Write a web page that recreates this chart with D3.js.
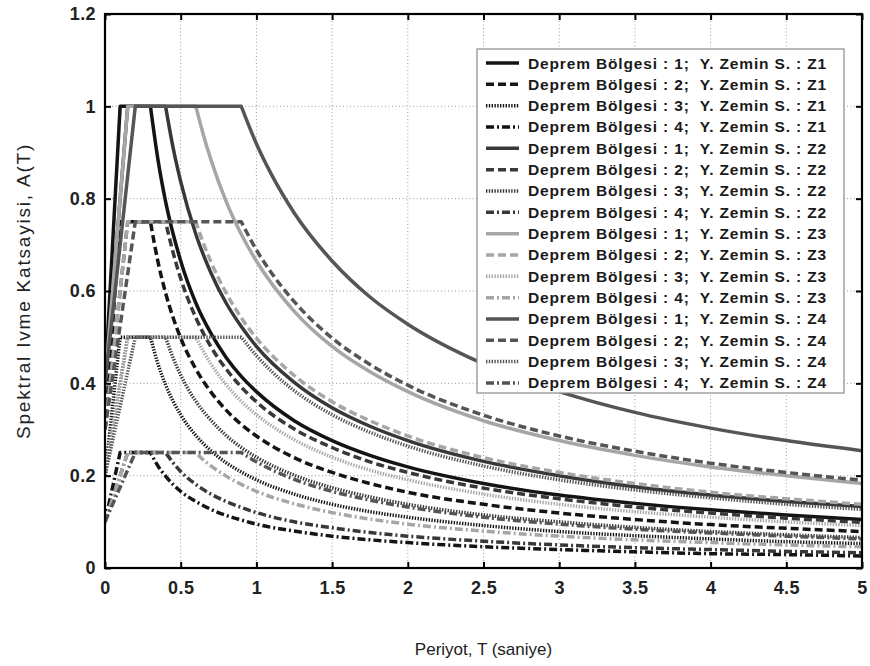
<!DOCTYPE html>
<html>
<head>
<meta charset="utf-8">
<script src="https://cdn.jsdelivr.net/npm/d3@7"></script>
<style>
  html, body { margin: 0; padding: 0; background: #fff; }
  svg { display: block; font-family: "Liberation Sans", Arial, Helvetica, sans-serif; }
</style>
</head>
<body>
<svg id="chart" width="870" height="666"></svg>
<script>
// ---------- data ----------
const soilClasses = ["Z1", "Z2", "Z3", "Z4"];
const zones = [1, 2, 3, 4];

// Period grids (s) per soil class
const periodsZ1 = [0, 0.1, 0.3, 0.35, 0.4, 0.5, 0.6, 0.7, 0.8, 0.9, 1.0, 1.25, 1.5, 1.75, 2, 2.5, 3, 3.5, 4, 4.5, 5];
const periodsZ2 = [0, 0.15, 0.4, 0.45, 0.5, 0.6, 0.7, 0.8, 0.9, 1.0, 1.25, 1.5, 1.75, 2, 2.5, 3, 3.5, 4, 4.5, 5];
const periodsZ3 = [0, 0.15, 0.6, 0.65, 0.7, 0.8, 0.9, 1.0, 1.25, 1.5, 1.75, 2, 2.5, 3, 3.5, 4, 4.5, 5];
const periodsZ4 = [0, 0.2, 0.9, 1.0, 1.1, 1.25, 1.5, 1.75, 2, 2.5, 3, 3.5, 4, 4.5, 5];

// Spectral acceleration A(T) per zone (rows: zone 1..4)
const accelZ1 = [
  [0.4, 1, 1, 0.884, 0.794, 0.665, 0.574, 0.508, 0.456, 0.415, 0.382, 0.319, 0.276, 0.244, 0.219, 0.183, 0.158, 0.140, 0.126, 0.115, 0.105],
  [0.3, 0.75, 0.75, 0.663, 0.596, 0.498, 0.431, 0.381, 0.342, 0.311, 0.286, 0.239, 0.207, 0.183, 0.164, 0.138, 0.119, 0.105, 0.094, 0.086, 0.079],
  [0.2, 0.5, 0.5, 0.442, 0.397, 0.332, 0.287, 0.254, 0.228, 0.208, 0.191, 0.160, 0.138, 0.122, 0.110, 0.092, 0.079, 0.070, 0.063, 0.057, 0.053],
  [0.1, 0.25, 0.25, 0.221, 0.199, 0.166, 0.144, 0.127, 0.114, 0.104, 0.095, 0.080, 0.069, 0.061, 0.055, 0.046, 0.040, 0.035, 0.031, 0.029, 0.026]
];
const accelZ2 = [
  [0.4, 1, 1, 0.910, 0.837, 0.723, 0.639, 0.574, 0.523, 0.480, 0.402, 0.347, 0.307, 0.276, 0.231, 0.200, 0.176, 0.158, 0.144, 0.133],
  [0.3, 0.75, 0.75, 0.683, 0.627, 0.542, 0.479, 0.431, 0.392, 0.360, 0.301, 0.261, 0.230, 0.207, 0.173, 0.150, 0.132, 0.119, 0.108, 0.099],
  [0.2, 0.5, 0.5, 0.455, 0.418, 0.361, 0.320, 0.287, 0.261, 0.240, 0.201, 0.174, 0.154, 0.138, 0.115, 0.100, 0.088, 0.079, 0.072, 0.066],
  [0.1, 0.25, 0.25, 0.228, 0.209, 0.181, 0.160, 0.144, 0.131, 0.120, 0.100, 0.087, 0.077, 0.069, 0.058, 0.050, 0.044, 0.040, 0.036, 0.033]
];
const accelZ3 = [
  [0.4, 1, 1, 0.938, 0.884, 0.794, 0.723, 0.665, 0.556, 0.480, 0.425, 0.382, 0.319, 0.276, 0.244, 0.219, 0.200, 0.183],
  [0.3, 0.75, 0.75, 0.703, 0.663, 0.596, 0.542, 0.498, 0.417, 0.360, 0.319, 0.286, 0.239, 0.207, 0.183, 0.164, 0.150, 0.138],
  [0.2, 0.5, 0.5, 0.469, 0.442, 0.397, 0.361, 0.332, 0.278, 0.240, 0.212, 0.191, 0.160, 0.138, 0.122, 0.110, 0.100, 0.092],
  [0.1, 0.25, 0.25, 0.234, 0.221, 0.199, 0.181, 0.166, 0.139, 0.120, 0.106, 0.095, 0.080, 0.069, 0.061, 0.055, 0.050, 0.046]
];
const accelZ4 = [
  [0.4, 1, 1, 0.919, 0.852, 0.769, 0.665, 0.587, 0.528, 0.442, 0.382, 0.337, 0.303, 0.276, 0.254],
  [0.3, 0.75, 0.75, 0.689, 0.639, 0.577, 0.498, 0.441, 0.396, 0.331, 0.286, 0.253, 0.227, 0.207, 0.190],
  [0.2, 0.5, 0.5, 0.460, 0.426, 0.384, 0.332, 0.294, 0.264, 0.221, 0.191, 0.169, 0.152, 0.138, 0.127],
  [0.1, 0.25, 0.25, 0.230, 0.213, 0.192, 0.166, 0.147, 0.132, 0.110, 0.095, 0.084, 0.076, 0.069, 0.063]
];

const xTicks = [0, 0.5, 1, 1.5, 2, 2.5, 3, 3.5, 4, 4.5, 5];
const xTickLabels = ["0", "0.5", "1", "1.5", "2", "2.5", "3", "3.5", "4", "4.5", "5"];
const yTicks = [0, 0.2, 0.4, 0.6, 0.8, 1.0, 1.2];
const yTickLabels = ["0", "0.2", "0.4", "0.6", "0.8", "1", "1.2"];

const legendLabels = [
  "Deprem Bölgesi : 1;  Y. Zemin S. : Z1",
  "Deprem Bölgesi : 2;  Y. Zemin S. : Z1",
  "Deprem Bölgesi : 3;  Y. Zemin S. : Z1",
  "Deprem Bölgesi : 4;  Y. Zemin S. : Z1",
  "Deprem Bölgesi : 1;  Y. Zemin S. : Z2",
  "Deprem Bölgesi : 2;  Y. Zemin S. : Z2",
  "Deprem Bölgesi : 3;  Y. Zemin S. : Z2",
  "Deprem Bölgesi : 4;  Y. Zemin S. : Z2",
  "Deprem Bölgesi : 1;  Y. Zemin S. : Z3",
  "Deprem Bölgesi : 2;  Y. Zemin S. : Z3",
  "Deprem Bölgesi : 3;  Y. Zemin S. : Z3",
  "Deprem Bölgesi : 4;  Y. Zemin S. : Z3",
  "Deprem Bölgesi : 1;  Y. Zemin S. : Z4",
  "Deprem Bölgesi : 2;  Y. Zemin S. : Z4",
  "Deprem Bölgesi : 3;  Y. Zemin S. : Z4",
  "Deprem Bölgesi : 4;  Y. Zemin S. : Z4"
];

// ---------- styles ----------
const soilColors = ["#141414", "#383838", "#a6a6a6", "#555555"];
const zoneDash = [null, "8,4", "1.4,1.4", "8,3,2,3"];

// ---------- build ----------
const periodsBySoil = [periodsZ1, periodsZ2, periodsZ3, periodsZ4];
const accelBySoil = [accelZ1, accelZ2, accelZ3, accelZ4];
const series = [];
soilClasses.forEach((s, si) => {
  zones.forEach((z, zi) => {
    series.push({
      soil: si, zone: zi,
      points: periodsBySoil[si].map((t, k) => [t, accelBySoil[si][zi][k]])
    });
  });
});

const svg = d3.select("#chart");
const W = 870, H = 666;
const m = { left: 105, right: W - 862, top: 14, bottom: H - 568 };
const x = d3.scaleLinear().domain([0, 5]).range([m.left, W - m.right]);
const y = d3.scaleLinear().domain([0, 1.2]).range([H - m.bottom, m.top]);

// grid
const grid = svg.append("g");
grid.selectAll("line.vx").data(xTicks.slice(1, -1)).join("line")
  .attr("x1", d => x(d)).attr("x2", d => x(d))
  .attr("y1", y(0)).attr("y2", y(1.2))
  .attr("stroke", "#9a9a9a").attr("stroke-width", 1).attr("stroke-dasharray", "1,2.5");
grid.selectAll("line.hy").data(yTicks.slice(1, -1)).join("line")
  .attr("x1", x(0)).attr("x2", x(5))
  .attr("y1", d => y(d)).attr("y2", d => y(d))
  .attr("stroke", "#9a9a9a").attr("stroke-width", 1).attr("stroke-dasharray", "1,2.5");

// curves
const clip = svg.append("clipPath").attr("id", "clip").append("rect")
  .attr("x", x(0)).attr("y", y(1.2)).attr("width", x(5) - x(0)).attr("height", y(0) - y(1.2));
const lineLin = d3.line().x(d => x(d[0])).y(d => y(d[1]));
const lineTail = d3.line().x(d => x(d[0])).y(d => y(d[1])).curve(d3.curveMonotoneX);
const curves = svg.append("g").attr("clip-path", "url(#clip)");
series.forEach(s => {
  const ramp = lineLin(s.points.slice(0, 3));
  const tail = lineTail(s.points.slice(2)).replace(/^M/, "L");
  curves.append("path")
    .attr("d", ramp + tail)
    .attr("fill", "none")
    .attr("stroke", soilColors[s.soil])
    .attr("stroke-width", 3.5)
    .attr("stroke-linejoin", "round")
    .attr("stroke-dasharray", zoneDash[s.zone]);
});

// axes (MATLAB-like box with inward ticks)
const xAxisB = d3.axisBottom(x).tickValues(xTicks).tickFormat((d, i) => xTickLabels[i]).tickSizeInner(-6).tickSizeOuter(0).tickPadding(13);
const yAxisL = d3.axisLeft(y).tickValues(yTicks).tickFormat((d, i) => yTickLabels[i]).tickSizeInner(-6).tickSizeOuter(0).tickPadding(9);
const xAxisT = d3.axisTop(x).tickValues(xTicks).tickFormat("").tickSizeInner(-6).tickSizeOuter(0);
const yAxisR = d3.axisRight(y).tickValues(yTicks).tickFormat("").tickSizeInner(-6).tickSizeOuter(0);

function styleAxis(g) {
  g.select(".domain").remove();
  g.selectAll(".tick line").attr("stroke", "#000").attr("stroke-width", 2);
  g.selectAll("text").attr("font-size", 18).attr("font-weight", "bold").attr("fill", "#222")
    .attr("letter-spacing", 0.4);
}
svg.append("g").attr("transform", `translate(0,${y(0)})`).call(xAxisB).call(styleAxis);
svg.append("g").attr("transform", `translate(${x(0)},0)`).call(yAxisL).call(styleAxis);
svg.append("g").attr("transform", `translate(0,${y(1.2)})`).call(xAxisT).call(styleAxis);
svg.append("g").attr("transform", `translate(${x(5)},0)`).call(yAxisR).call(styleAxis);

svg.append("rect")
  .attr("x", x(0)).attr("y", y(1.2)).attr("width", x(5) - x(0)).attr("height", y(0) - y(1.2))
  .attr("fill", "none").attr("stroke", "#000").attr("stroke-width", 2.2);

// axis titles
svg.append("text").attr("x", (x(0) + x(5)) / 2).attr("y", 655)
  .attr("text-anchor", "middle").attr("font-size", 17).attr("fill", "#222")
  .text("Periyot, T (saniye)");
svg.append("text")
  .attr("transform", `translate(30,${(y(0) + y(1.2)) / 2}) rotate(-90)`)
  .attr("text-anchor", "middle").attr("font-size", 19).attr("fill", "#222")
  .attr("letter-spacing", 1.8)
  .text("Spektral Ivme Katsayisi, A(T)");

// legend
const lg = svg.append("g");
const lx = 477, ly = 49, lw = 367, lh = 344, rowH = 21.33;
lg.append("rect").attr("x", lx).attr("y", ly).attr("width", lw).attr("height", lh)
  .attr("fill", "#fff").attr("stroke", "#8a8a8a").attr("stroke-width", 1.2);
series.forEach((s, i) => {
  const cy = 63 + i * rowH;
  lg.append("line").attr("x1", 486).attr("x2", 519).attr("y1", cy).attr("y2", cy)
    .attr("stroke", soilColors[s.soil]).attr("stroke-width", 3.5)
    .attr("stroke-dasharray", zoneDash[s.zone]);
  lg.append("text").attr("x", 528).attr("y", cy + 5.5)
    .attr("font-size", 15.5).attr("font-weight", "bold").attr("fill", "#1a1a1a")
    .attr("letter-spacing", 0.85)
    .style("white-space", "pre")
    .text(legendLabels[i]);
});
</script>
</body>
</html>
